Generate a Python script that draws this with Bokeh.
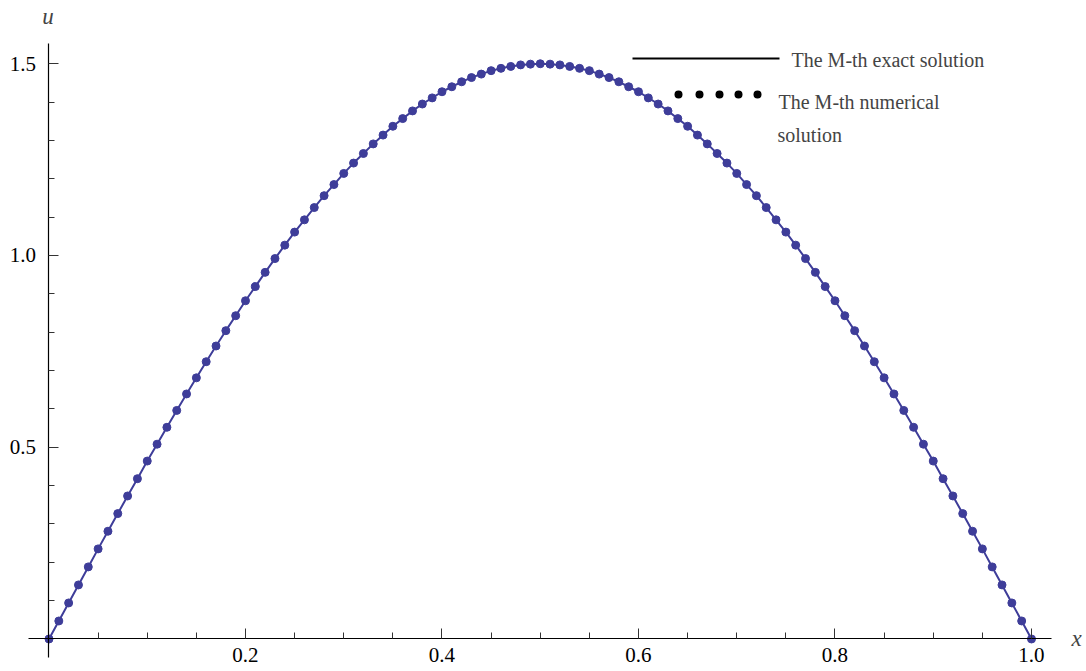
from bokeh.plotting import figure
from bokeh.models import (LinearAxis, FixedTicker, PrintfTickFormatter, Range1d,
                          Label, BoxAnnotation)
from bokeh.embed import file_html
from bokeh.resources import INLINE

# ---- data ----
x_values = [0.00, 0.01, 0.02, 0.03, 0.04, 0.05, 0.06, 0.07, 0.08, 0.09,
            0.10, 0.11, 0.12, 0.13, 0.14, 0.15, 0.16, 0.17, 0.18, 0.19,
            0.20, 0.21, 0.22, 0.23, 0.24, 0.25, 0.26, 0.27, 0.28, 0.29,
            0.30, 0.31, 0.32, 0.33, 0.34, 0.35, 0.36, 0.37, 0.38, 0.39,
            0.40, 0.41, 0.42, 0.43, 0.44, 0.45, 0.46, 0.47, 0.48, 0.49,
            0.50,
            0.51, 0.52, 0.53, 0.54, 0.55, 0.56, 0.57, 0.58, 0.59, 0.60,
            0.61, 0.62, 0.63, 0.64, 0.65, 0.66, 0.67, 0.68, 0.69, 0.70,
            0.71, 0.72, 0.73, 0.74, 0.75, 0.76, 0.77, 0.78, 0.79, 0.80,
            0.81, 0.82, 0.83, 0.84, 0.85, 0.86, 0.87, 0.88, 0.89, 0.90,
            0.91, 0.92, 0.93, 0.94, 0.95, 0.96, 0.97, 0.98, 0.99, 1.00]

u_exact = [0.000, 0.047, 0.094, 0.141, 0.188, 0.235, 0.281, 0.327, 0.373, 0.418,
           0.464, 0.508, 0.552, 0.596, 0.639, 0.681, 0.723, 0.764, 0.804, 0.843,
           0.882, 0.919, 0.956, 0.992, 1.027, 1.061, 1.093, 1.125, 1.156, 1.185,
           1.214, 1.241, 1.266, 1.291, 1.314, 1.337, 1.357, 1.377, 1.395, 1.411,
           1.427, 1.440, 1.453, 1.464, 1.473, 1.482, 1.488, 1.493, 1.497, 1.499,
           1.500,
           1.499, 1.497, 1.493, 1.488, 1.482, 1.473, 1.464, 1.453, 1.440, 1.427,
           1.411, 1.395, 1.377, 1.357, 1.337, 1.314, 1.291, 1.266, 1.241, 1.214,
           1.185, 1.156, 1.125, 1.093, 1.061, 1.027, 0.992, 0.956, 0.919, 0.882,
           0.843, 0.804, 0.764, 0.723, 0.681, 0.639, 0.596, 0.552, 0.508, 0.464,
           0.418, 0.373, 0.327, 0.281, 0.235, 0.188, 0.141, 0.094, 0.047, 0.000]

u_numerical = [0.000, 0.047, 0.094, 0.141, 0.188, 0.235, 0.281, 0.327, 0.373, 0.418,
               0.464, 0.508, 0.552, 0.596, 0.639, 0.681, 0.723, 0.764, 0.804, 0.843,
               0.882, 0.919, 0.956, 0.992, 1.027, 1.061, 1.093, 1.125, 1.156, 1.185,
               1.214, 1.241, 1.266, 1.291, 1.314, 1.337, 1.357, 1.377, 1.395, 1.411,
               1.427, 1.440, 1.453, 1.464, 1.473, 1.482, 1.488, 1.493, 1.497, 1.499,
               1.500,
               1.499, 1.497, 1.493, 1.488, 1.482, 1.473, 1.464, 1.453, 1.440, 1.427,
               1.411, 1.395, 1.377, 1.357, 1.337, 1.314, 1.291, 1.266, 1.241, 1.214,
               1.185, 1.156, 1.125, 1.093, 1.061, 1.027, 0.992, 0.956, 0.919, 0.882,
               0.843, 0.804, 0.764, 0.723, 0.681, 0.639, 0.596, 0.552, 0.508, 0.464,
               0.418, 0.373, 0.327, 0.281, 0.235, 0.188, 0.141, 0.094, 0.047, 0.000]

x_major_ticks = [0.2, 0.4, 0.6, 0.8, 1.0]
x_minor_ticks = [0.05, 0.10, 0.15, 0.25, 0.30, 0.35, 0.45, 0.50, 0.55,
                 0.65, 0.70, 0.75, 0.85, 0.90, 0.95]
y_major_ticks = [0.5, 1.0, 1.5]
y_minor_ticks = [0.1, 0.2, 0.3, 0.4, 0.6, 0.7, 0.8, 0.9, 1.1, 1.2, 1.3, 1.4]

legend_labels = ["The M-th exact solution", "The M-th numerical", "solution"]

# ---- styling ----
CURVE = "#3e3d99"
SERIF = "Liberation Serif"

p = figure(width=1086, height=671, output_backend="svg", toolbar_location=None,
           x_axis_type=None, y_axis_type=None,
           x_range=Range1d(-0.04936, 1.05598), y_range=Range1d(-0.08475, 1.66493))
p.min_border = 0
p.min_border_left = 0
p.min_border_right = 0
p.min_border_top = 0
p.min_border_bottom = 0
p.outline_line_color = None
p.xgrid.visible = False
p.ygrid.visible = False
p.background_fill_color = "white"

xaxis = LinearAxis(fixed_location=0, bounds=(-0.0209, 1.0204),
                   ticker=FixedTicker(ticks=x_major_ticks, minor_ticks=x_minor_ticks),
                   formatter=PrintfTickFormatter(format="%.1f"))
yaxis = LinearAxis(fixed_location=0, bounds=(-0.0482, 1.5528),
                   ticker=FixedTicker(ticks=y_major_ticks, minor_ticks=y_minor_ticks),
                   formatter=PrintfTickFormatter(format="%.1f"))
for ax in (xaxis, yaxis):
    ax.axis_line_color = "black"
    ax.axis_line_width = 1.2
    ax.major_tick_in = 10
    ax.major_tick_out = 0
    ax.minor_tick_in = 6
    ax.minor_tick_out = 0
    ax.major_tick_line_color = "#333333"
    ax.minor_tick_line_color = "#333333"
    ax.major_label_text_font = SERIF
    ax.major_label_text_font_size = "21px"
    ax.major_label_text_color = "black"
xaxis.major_label_standoff = 9
yaxis.major_label_standoff = 13
p.add_layout(xaxis, "below")
p.add_layout(yaxis, "left")

p.line(x_values, u_exact, line_color=CURVE, line_width=2)
p.scatter(x_values, u_numerical, size=8, fill_color=CURVE, line_color=CURVE)

# axis names
p.add_layout(Label(x=47.5, y=15.5, x_units="canvas", y_units="canvas", text="u",
                   text_font=SERIF, text_font_style="italic", text_font_size="23px",
                   text_align="center", text_baseline="middle"))
p.add_layout(Label(x=1076, y=638, x_units="canvas", y_units="canvas", text="x",
                   text_font=SERIF, text_font_style="italic", text_font_size="23px",
                   text_align="center", text_baseline="middle"))

# legend
p.add_layout(BoxAnnotation(left=632, right=779, top=57, bottom=59,
                           left_units="canvas", right_units="canvas",
                           top_units="canvas", bottom_units="canvas",
                           fill_color="black", fill_alpha=1, line_color=None))
for cx in [678, 699, 719, 738, 757]:
    p.add_layout(BoxAnnotation(left=cx - 4, right=cx + 4, top=90, bottom=98,
                               left_units="canvas", right_units="canvas",
                               top_units="canvas", bottom_units="canvas",
                               border_radius=4,
                               fill_color="black", fill_alpha=1, line_color=None))
for txt, lx, ly in [(legend_labels[0], 791, 59.5), (legend_labels[1], 778, 101),
                    (legend_labels[2], 777, 134.5)]:
    p.add_layout(Label(x=lx, y=ly, x_units="canvas", y_units="canvas", text=txt,
                       text_font=SERIF, text_font_size="20px",
                       text_align="left", text_baseline="middle"))

open("out.html", "w").write(file_html(p, INLINE))
